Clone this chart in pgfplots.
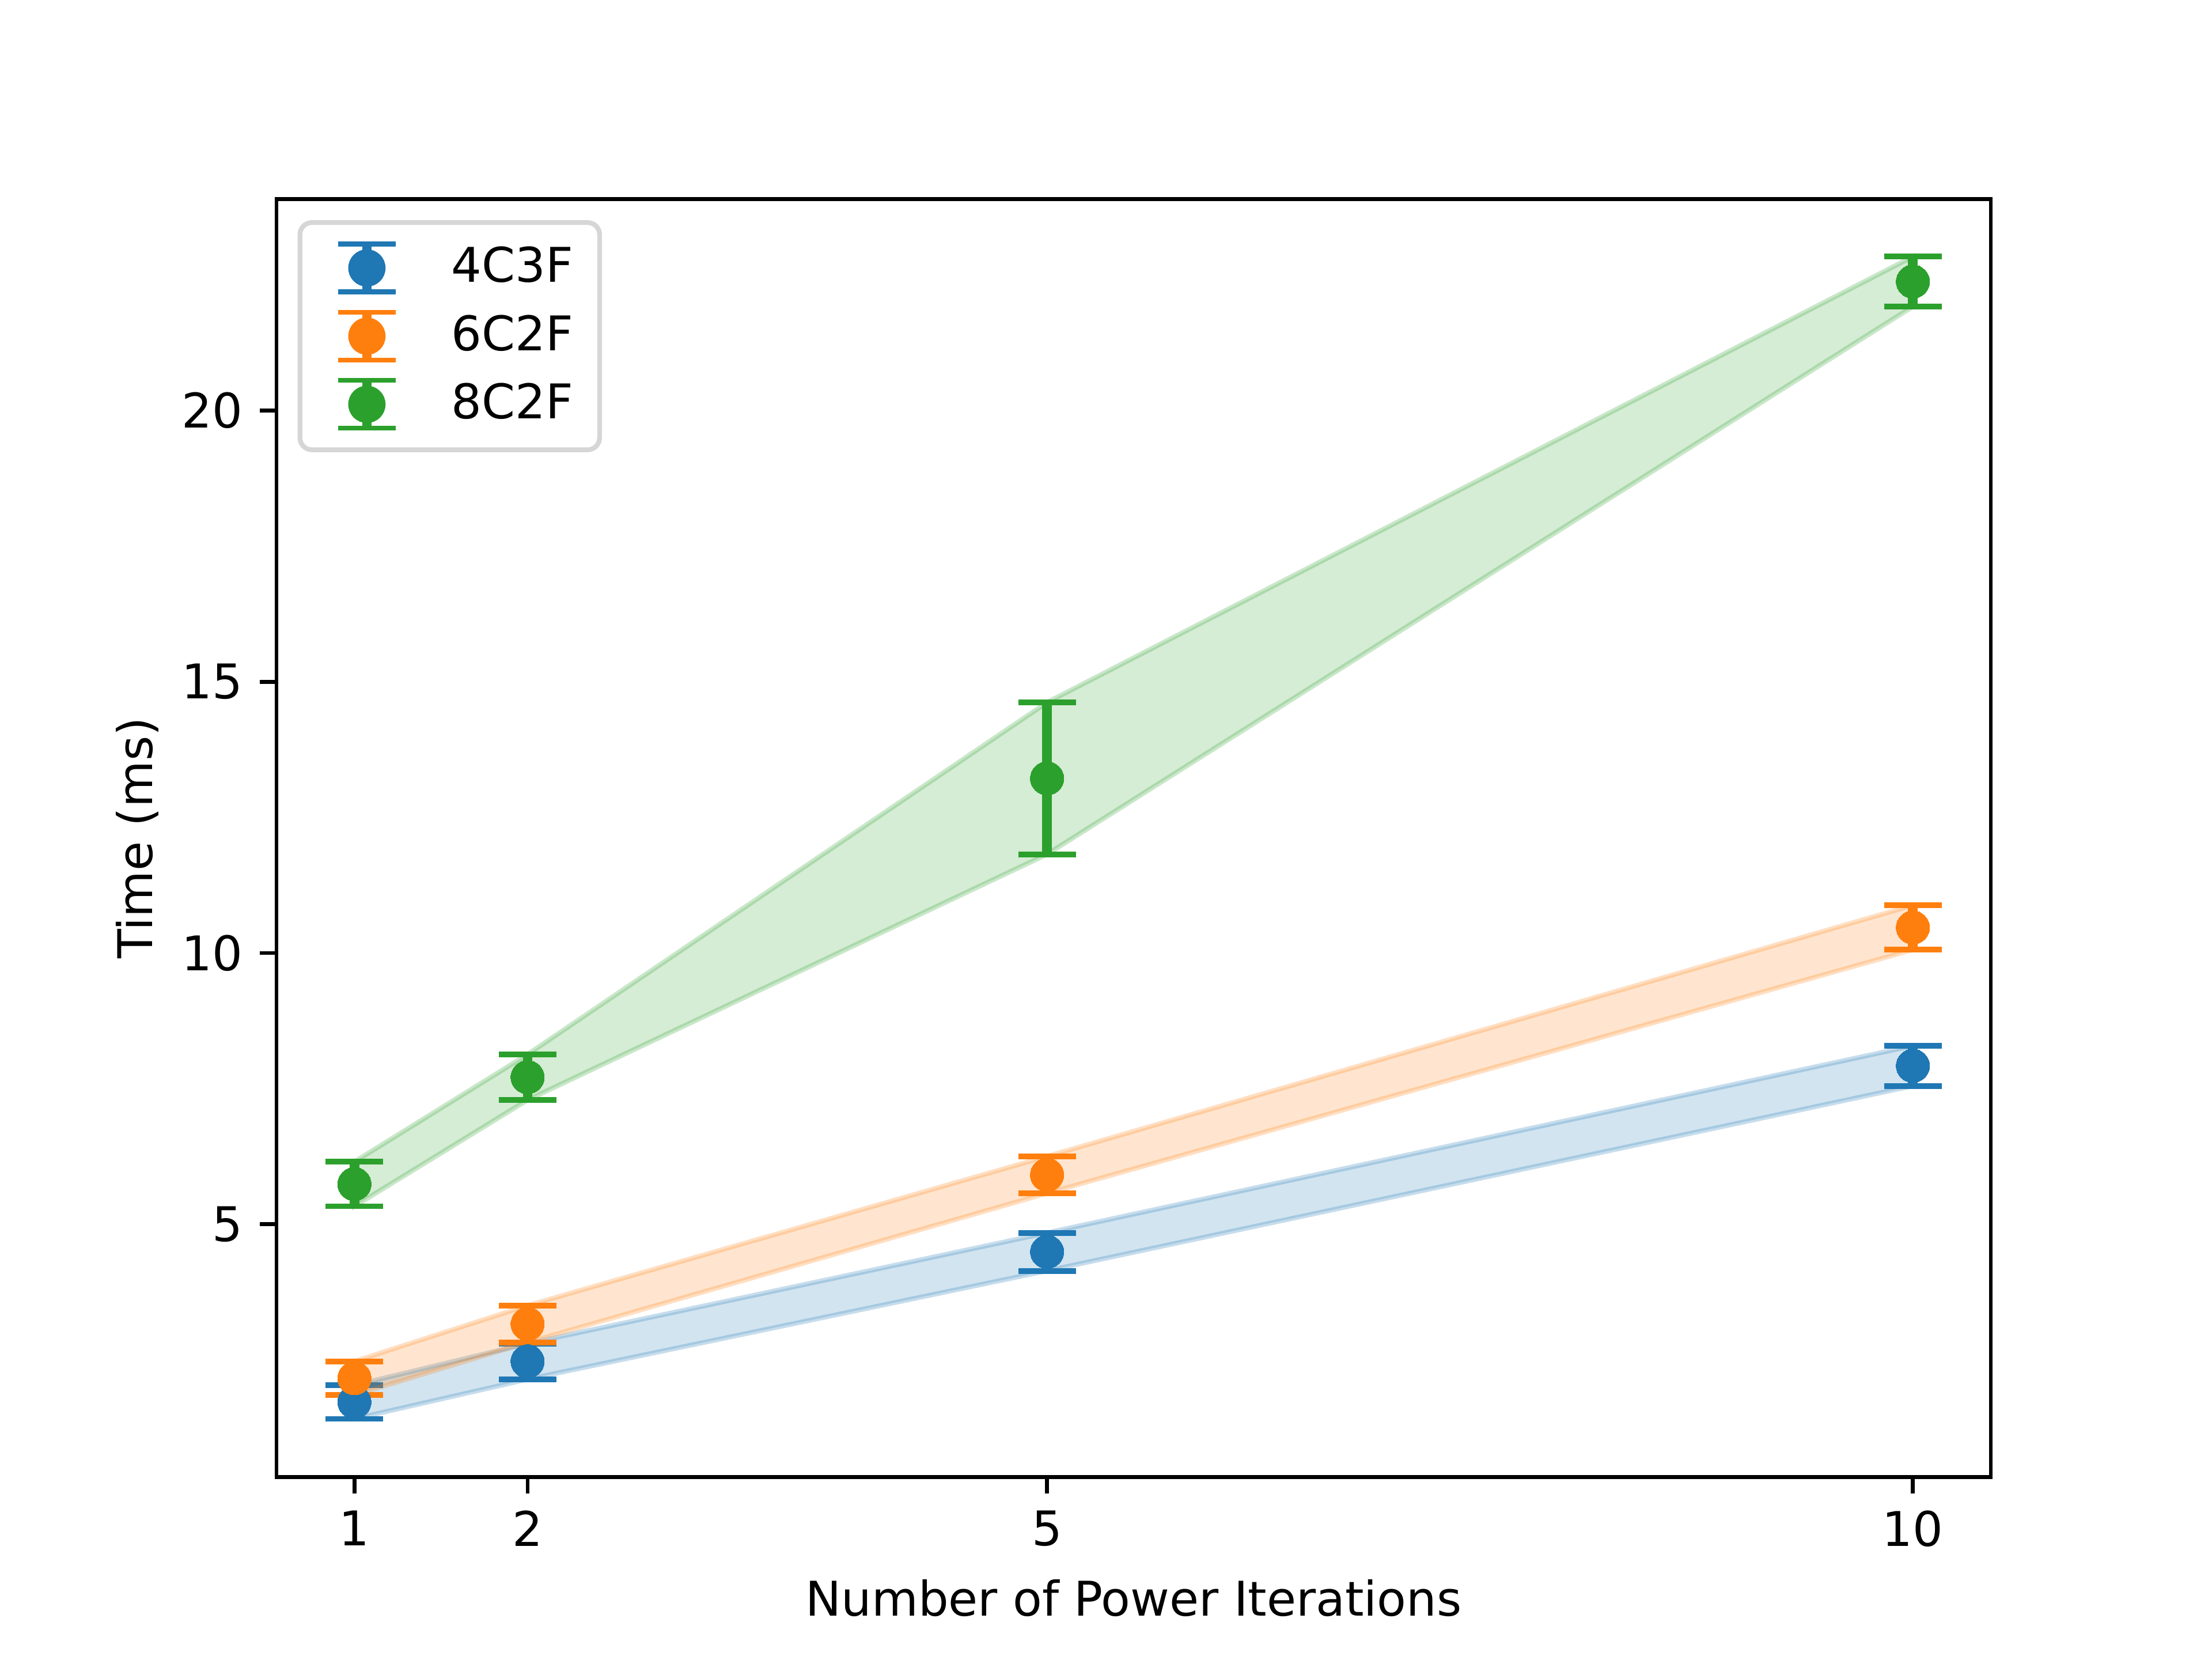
\documentclass[border=0pt]{standalone}
\usepackage{pgfplots}
\pgfplotsset{compat=1.18}
\usepackage{pgfplotstable}
\usepackage{fontspec}
\setmainfont{DejaVu Sans}
\definecolor{c1}{HTML}{1F77B4}
\definecolor{c2}{HTML}{FF7F0E}
\definecolor{c3}{HTML}{2CA02C}
\pgfplotstableread{
x y e
1 1.72 0.31
2 2.47 0.33
5 4.49 0.35
10 7.92 0.37
}\dataA
\pgfplotstableread{
x y e
1 2.16 0.31
2 3.16 0.34
5 5.91 0.34
10 10.47 0.41
}\dataB
\pgfplotstableread{
x y e
1 5.74 0.41
2 7.71 0.42
5 13.22 1.40
10 22.38 0.46
}\dataC
\newcommand\myleg[1]{%
  \path[draw=none] (0pt,-5.5pt) rectangle (26.2pt,5.5pt);
  \draw[#1, line width=2pt] (11pt,-5pt) -- (11pt,5pt);
  \draw[#1, line width=1pt] (5pt,5pt) -- (17pt,5pt);
  \draw[#1, line width=1pt] (5pt,-5pt) -- (17pt,-5pt);
  \fill[#1] (11pt,0pt) circle (3.4pt);
}
\pgfplotsset{
  band/.style={fill=#1, fill opacity=0.2, draw=#1, draw opacity=0.25, line width=1pt, forget plot},
  errp/.style={only marks, color=#1, mark=*, mark size=3.5pt,
    mark options={fill=#1, draw=#1, line width=0pt},
    error bars/.cd, y dir=both, y explicit,
    error bar style={line width=2pt, #1},
    error mark options={rotate=90, mark size=6pt, line width=1.2pt, #1},
    /pgfplots/.cd},
}
\begin{document}
\begin{tikzpicture}
\path[use as bounding box] (0,0) rectangle (6.4in,4.8in);
\begin{axis}[
  at={(0.8in,0.528in)}, anchor=south west,
  scale only axis, width=4.96in, height=3.696in,
  xmin=0.55, xmax=10.45, ymin=0.34, ymax=23.90,
  xtick={1,2,5,10}, ytick={5,10,15,20},
  tick align=outside, tick pos=left,
  major tick length=3.5pt,
  every tick/.style={black, line width=0.8pt},
  axis line style={line width=0.8pt},
  /pgf/number format/assume math mode=true,
  tick label style={font=\fontsize{10}{12}\selectfont},
  label style={font=\fontsize{10}{12}\selectfont},
  ylabel style={yshift=-2pt},
  xlabel={Number of Power Iterations},
  ylabel={Time (ms)},
  legend cell align=left,
  legend style={at={(0,1)}, anchor=north west, xshift=4.4pt, yshift=-4.4pt,
    draw=black!16, line width=1pt, rounded corners=2.5pt,
    inner xsep=3pt, inner ysep=3.5pt, row sep=2.25pt,
    nodes={inner xsep=2.5pt, inner ysep=0pt},
    font=\fontsize{10}{12}\selectfont},
]
% 4C3F
\addplot[band=c1] coordinates {(1,2.03) (2,2.80) (5,4.84) (10,8.29) (10,7.55) (5,4.14) (2,2.14) (1,1.41)} -- cycle;
\addplot[legend image code/.code={\myleg{c1}}, errp=c1] table[x=x, y=y, y error=e] {\dataA};
\addlegendentry{4C3F}
% 6C2F
\addplot[band=c2] coordinates {(1,2.47) (2,3.50) (5,6.25) (10,10.88) (10,10.06) (5,5.57) (2,2.82) (1,1.85)} -- cycle;
\addplot[legend image code/.code={\myleg{c2}}, errp=c2] table[x=x, y=y, y error=e] {\dataB};
\addlegendentry{6C2F}
% 8C2F
\addplot[band=c3] coordinates {(1,6.15) (2,8.13) (5,14.62) (10,22.84) (10,21.92) (5,11.82) (2,7.29) (1,5.33)} -- cycle;
\addplot[legend image code/.code={\myleg{c3}}, errp=c3] table[x=x, y=y, y error=e] {\dataC};
\addlegendentry{8C2F}
\end{axis}
\end{tikzpicture}
\end{document}
